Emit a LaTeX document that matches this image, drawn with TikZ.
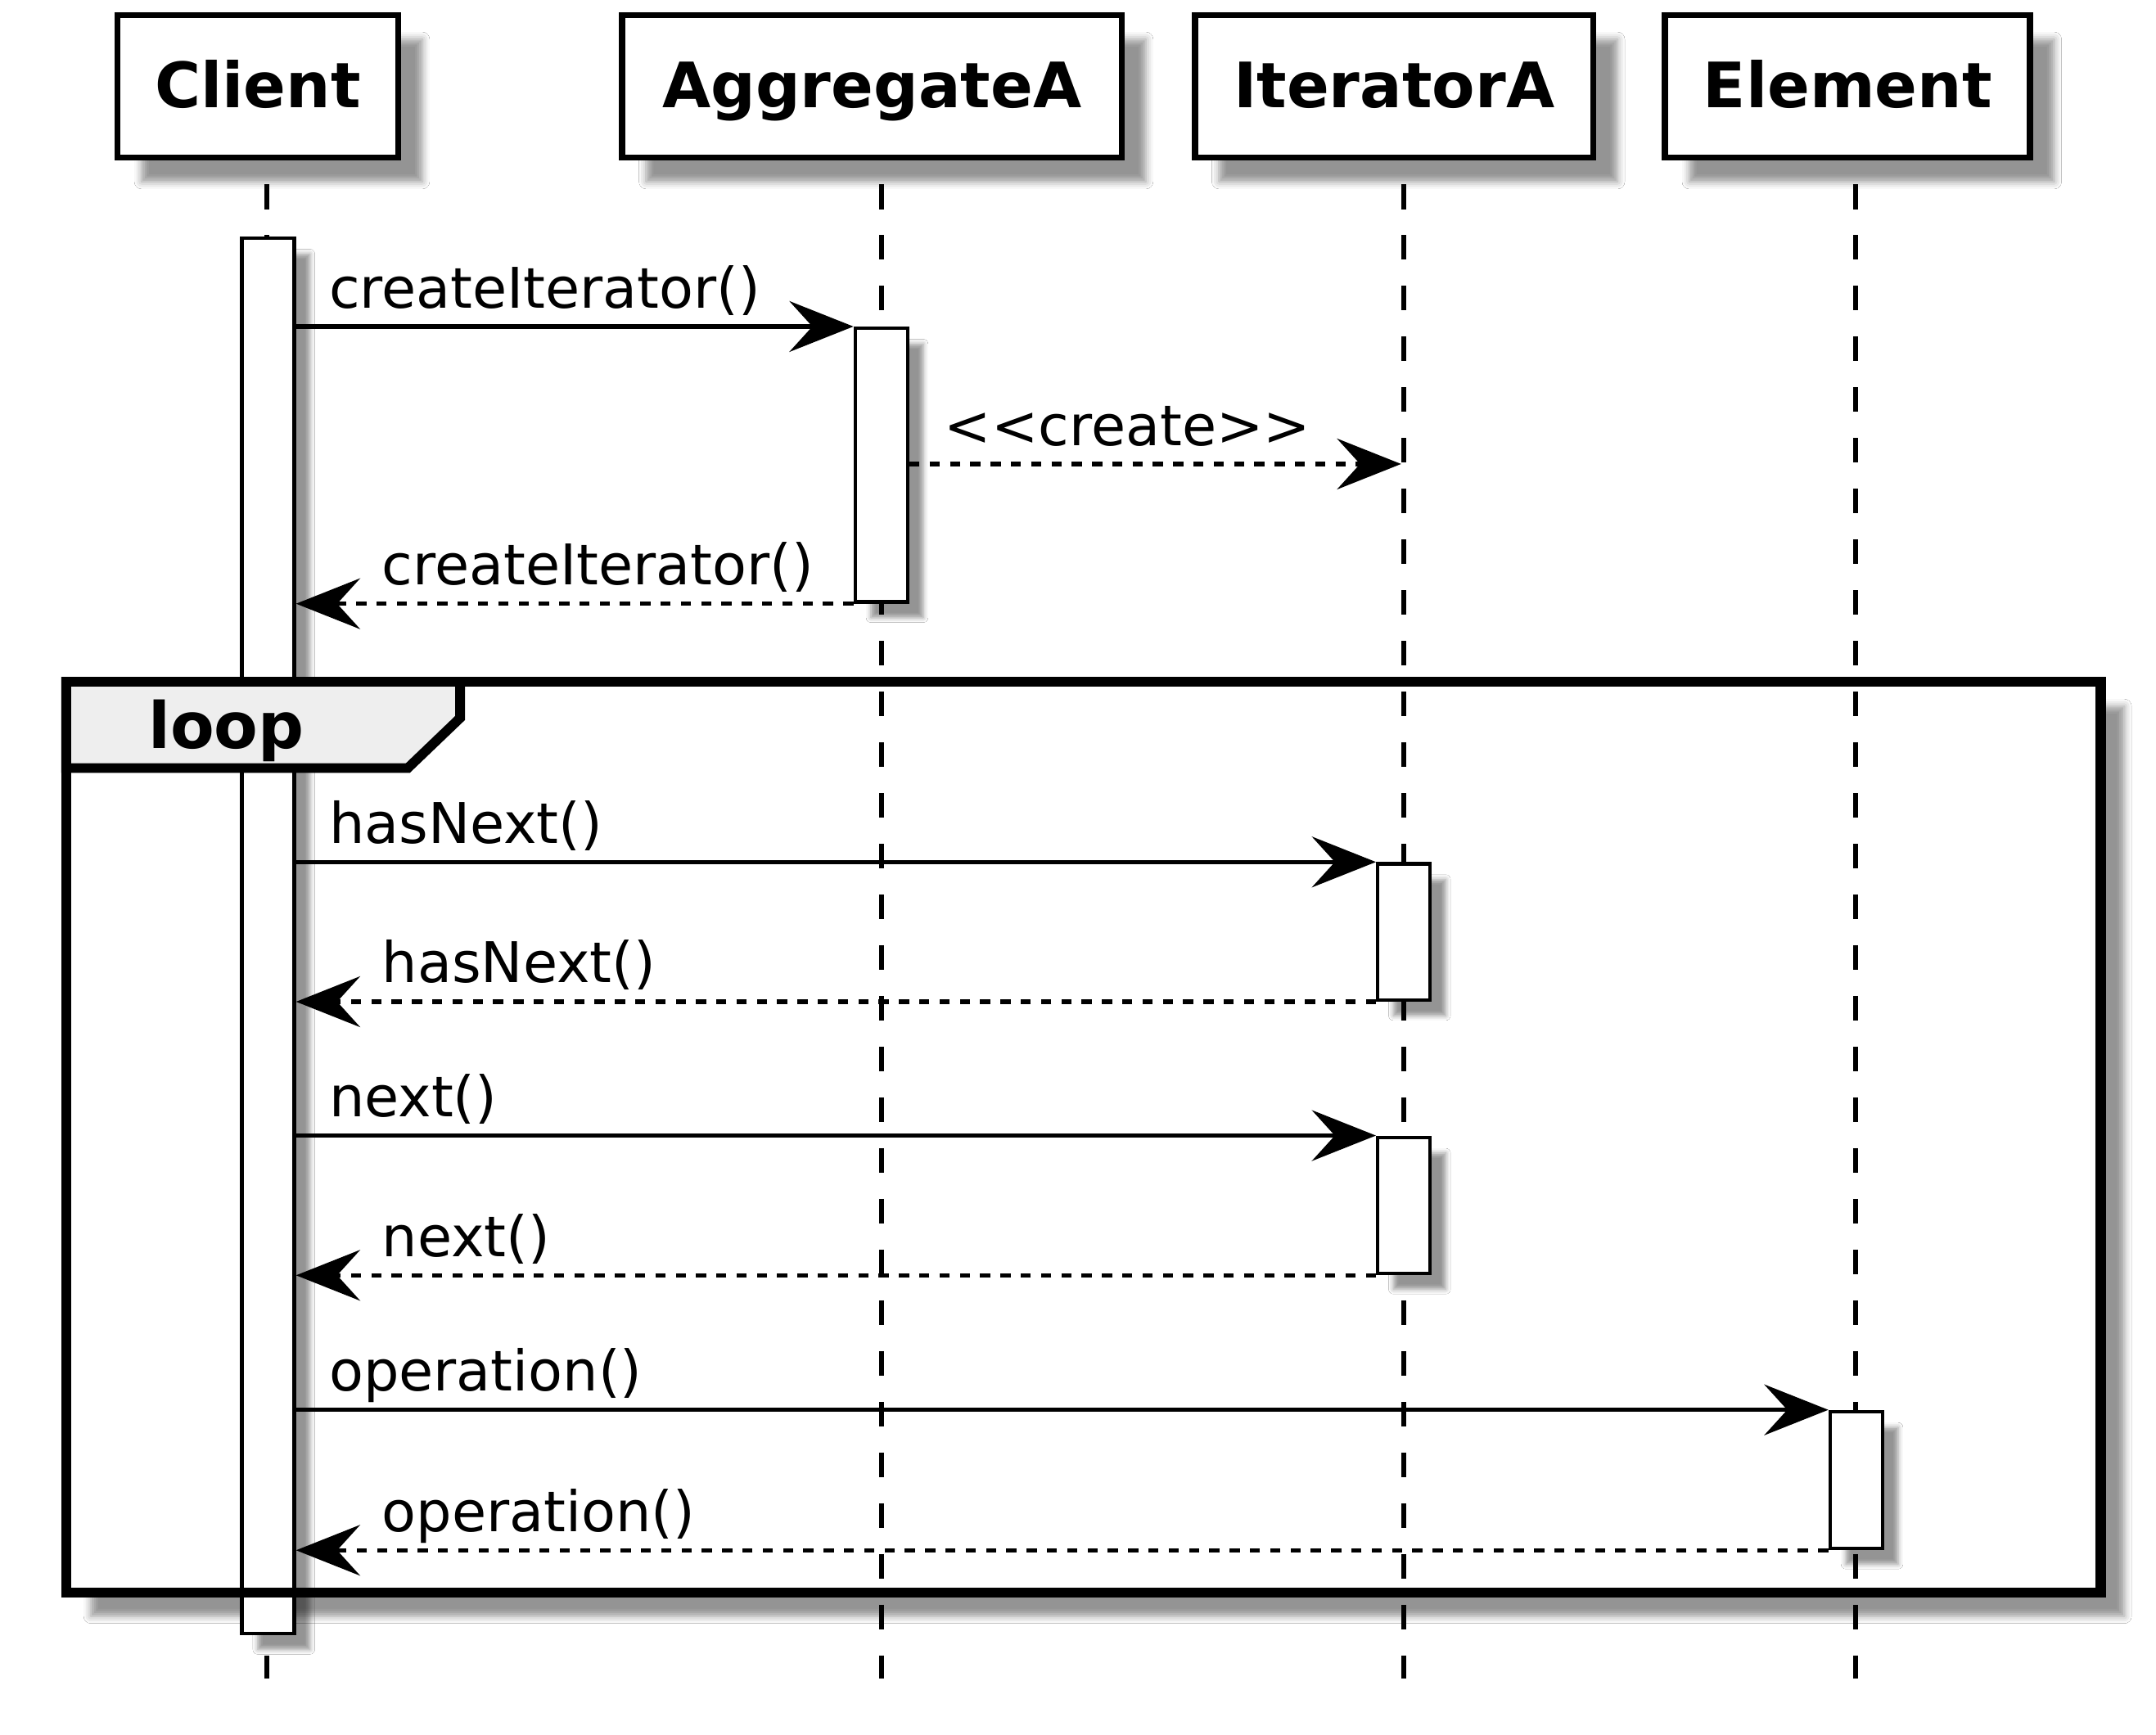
\documentclass[tikz,border=0pt]{standalone}
\usepackage{fontspec}
\setmainfont{DejaVu Sans}
\usepackage{xcolor}
\usetikzlibrary{arrows.meta,positioning,shadows.blur}

\definecolor{tabgray}{HTML}{EEEEEE}

\begin{document}
\begin{tikzpicture}[x=0.2mm, y=-0.2mm,
    every node/.style={font=\fontsize{23.2}{28}\selectfont},
    participant/.style={draw, line width=2.6pt, fill=white, inner sep=0pt, minimum height=20.72mm,
        text height=17.7pt, text depth=0pt, font=\fontsize{25.9}{30}\selectfont\bfseries,
        blur shadow={shadow xshift=10pt, shadow yshift=-10pt, shadow blur radius=3pt, shadow opacity=42}},
    actbar/.style={draw, line width=1.5pt, fill=white, inner sep=0pt, minimum width=7.6mm, anchor=north,
        blur shadow={shadow xshift=6.5pt, shadow yshift=-6.5pt, shadow blur radius=2pt, shadow opacity=42}},
    loopbg/.style={fill=white, inner sep=0pt,
        blur shadow={shadow xshift=10pt, shadow yshift=-10pt, shadow blur radius=3pt, shadow opacity=42}},
    frameline/.style={line width=4.2pt},
    tabline/.style={line width=4pt, fill=tabgray, line join=miter},
    lifeline/.style={line width=1.9pt, dash pattern=on 10.3pt off 10.7pt},
    call/.style={line width=1.8pt, -{Stealth[length=26.5pt, width=21pt, inset=9.5pt]}},
    reply/.style={call, dash pattern=on 4.2pt off 4.2pt},
    calllabel/.style={pos=0, anchor=base west, inner sep=0pt, xshift=4.5mm, yshift=2.72mm},
    replylabel/.style={pos=1, anchor=base west, inner sep=0pt, xshift=12.2mm, yshift=2.75mm},
    looplabel/.style={anchor=base west, inner sep=0pt, font=\fontsize{26.5}{30}\selectfont\bfseries}
  ]
  % canvas
  \fill[white] (0,0) rectangle (1568,1262);
  \useasboundingbox (0,0) rectangle (1568,1262);

  % participants
  \node[participant, minimum width=40.84mm] (client) at (187.5,62.8) {Client};
  \node[participant, minimum width=72.68mm] (aggregate) at (634.1,62.8) {AggregateA};
  \node[participant, minimum width=57.96mm] (iterator) at (1013.9,62.8) {IteratorA};
  \node[participant, minimum width=53.08mm] (element) at (1343.7,62.8) {Element};

  % loop frame background (outline comes last)
  \node[loopbg, minimum width=295.78mm, minimum height=132.36mm] (loopframe) at (787.95,827.1) {};

  % lifelines
  \foreach \x in {194,641,1021,1349.5}
    \draw[lifeline] (\x,134) -- (\x,1221);

  % activation bars
  \node[actbar, minimum height=203mm] (barC) at (195,172) {};
  \node[actbar, minimum height=39.8mm] (barA) at (641,237.5) {};
  \node[actbar, minimum height=19.8mm] (barI1) at (1021,627) {};
  \node[actbar, minimum height=19.8mm] (barI2) at (1021,826) {};
  \node[actbar, minimum height=19.9mm] (barE) at (1350,1025.5) {};
  \coordinate (createTip) at (1019,337.5);

  % messages
  \draw[call] (barC.east |- barA.north) -- node[calllabel] (l1) {createIterator()} (barA.north west);
  \draw[reply] (barA.east |- createTip) -- node[calllabel, xshift=0.3mm] (l2) {<{}<create>{}>} (createTip);
  \draw[reply] (barA.south west) -- node[replylabel] (l3) {createIterator()} (barC.east |- barA.south west);
  \draw[call] (barC.east |- barI1.north) -- node[calllabel] (l4) {hasNext()} (barI1.north west);
  \draw[reply] (barI1.south west) -- node[replylabel] (l5) {hasNext()} (barC.east |- barI1.south west);
  \draw[call] (barC.east |- barI2.north) -- node[calllabel] (l6) {next()} (barI2.north west);
  \draw[reply] (barI2.south west) -- node[replylabel] (l7) {next()} (barC.east |- barI2.south west);
  \draw[call] (barC.east |- barE.north) -- node[calllabel] (l8) {operation()} (barE.north west);
  \draw[reply] (barE.south west) -- node[replylabel] (l9) {operation()} (barC.east |- barE.south west);

  % loop frame outline and tab
  \draw[frameline] (loopframe.north west) rectangle (loopframe.south east);
  \draw[tabline] (loopframe.north west) -- ++(286.5,0) -- ++(0,26.4) -- ++(-38,36.4) -- ++(-248.5,0) -- cycle;
  \node[looplabel] (looptitle) at ([xshift=11.9mm, yshift=-9.7mm]loopframe.north west) {loop};
\end{tikzpicture}
\end{document}
